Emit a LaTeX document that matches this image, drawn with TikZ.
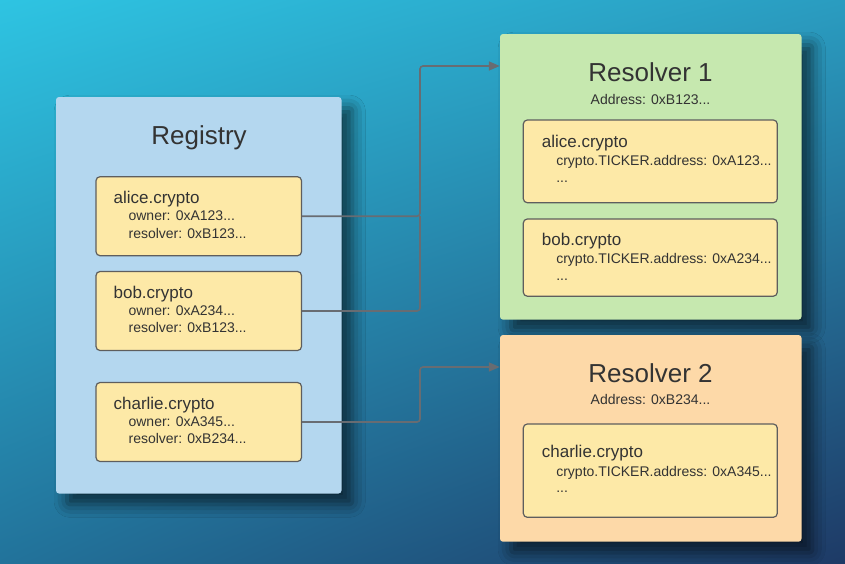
\documentclass[tikz,border=0pt]{standalone}
\usepackage{fontspec}
\setmainfont{Liberation Sans}
\usetikzlibrary{arrows.meta}
\usetikzlibrary{calc}
\usetikzlibrary{shadings}
\usetikzlibrary{shadows.blur}

\definecolor{bgtl}{HTML}{2EC4E2}
\definecolor{bgtr}{HTML}{2A9CC0}
\definecolor{bgbl}{HTML}{22739B}
\definecolor{bgbr}{HTML}{1E3A66}
\definecolor{regfill}{HTML}{B4D7EF}
\definecolor{resfillA}{HTML}{C6E8AF}
\definecolor{resfillB}{HTML}{FDD9A8}
\definecolor{recfill}{HTML}{FDE9A7}
\definecolor{recline}{HTML}{5E5E5E}
\definecolor{linkcol}{HTML}{686C72}
\definecolor{txt}{HTML}{333333}

\tikzset{
    panel/.style={rectangle, rounded corners=3pt, inner sep=0pt,
        blur shadow={shadow xshift=11pt, shadow yshift=-11pt,
            shadow blur radius=13pt, shadow opacity=60}},
    record/.style={rectangle, draw=recline, line width=1.2pt, fill=recfill,
        rounded corners=4pt, inner sep=0pt},
    bigtitle/.style={anchor=base, inner sep=0pt, text=txt,
        font=\fontsize{26}{30}\selectfont},
    addr/.style={anchor=base, inner sep=0pt, text=txt,
        font=\fontsize{14}{16}\selectfont},
    recname/.style={anchor=base west, inner sep=0pt, text=txt,
        font=\fontsize{17}{20}\selectfont},
    recfield/.style={anchor=base west, inner sep=0pt, text=txt,
        font=\fontsize{14}{16}\selectfont},
    link/.style={draw=linkcol, line width=1.6pt, rounded corners=3pt},
}

\begin{document}
\begin{tikzpicture}[x=1pt, y=-1pt, >={Triangle[length=11pt, width=9pt]}]
    \useasboundingbox (0,0) rectangle (845,563);
    \shade[upper left=bgtl, upper right=bgtr, lower left=bgbl, lower right=bgbr]
        (0,0) rectangle (845,563);

    % registry side
    \node[panel, fill=regfill, minimum width=285.5pt, minimum height=396.5pt]
        (registry) at (198.75,295.25) {};
    \node[bigtitle] (regtitle) at (199,144) {Registry};

    \node[record, minimum width=205.5pt, minimum height=79pt] (alice) at (198.75,216.2) {};
    \node[recname] at ($(alice.north west)+(18,27.6)$) {alice.crypto};
    \node[recfield] at ($(alice.north west)+(33,44.6)$) {owner: 0xA123...};
    \node[recfield] at ($(alice.north west)+(33,62)$) {resolver: 0xB123...};

    \node[record, minimum width=205.5pt, minimum height=79pt] (bob) at (198.75,311) {};
    \node[recname] at ($(bob.north west)+(18,27.6)$) {bob.crypto};
    \node[recfield] at ($(bob.north west)+(33,44.6)$) {owner: 0xA234...};
    \node[recfield] at ($(bob.north west)+(33,62)$) {resolver: 0xB123...};

    \node[record, minimum width=205.5pt, minimum height=79pt] (charlie) at (198.75,422) {};
    \node[recname] at ($(charlie.north west)+(18,27.6)$) {charlie.crypto};
    \node[recfield] at ($(charlie.north west)+(33,44.6)$) {owner: 0xA345...};
    \node[recfield] at ($(charlie.north west)+(33,62)$) {resolver: 0xB234...};

    % resolvers
    \node[panel, fill=resfillA, minimum width=301.5pt, minimum height=285.6pt]
        (res1) at (650.75,176.8) {};
    \node[bigtitle] (res1title) at (650.5,81.7) {Resolver 1};
    \node[addr] (res1addr) at (650.5,104) {Address: 0xB123...};

    \node[record, minimum width=254pt, minimum height=82.7pt] (res1alice) at (650.3,161.35) {};
    \node[recname] at ($(res1alice.north west)+(19,28.3)$) {alice.crypto};
    \node[recfield] at ($(res1alice.north west)+(33.4,46)$) {crypto.TICKER.address: 0xA123...};
    \node[recfield] at ($(res1alice.north west)+(33.4,63.3)$) {...};

    \node[record, minimum width=254pt, minimum height=77.2pt] (res1bob) at (650.3,257.6) {};
    \node[recname] at ($(res1bob.north west)+(19,27.5)$) {bob.crypto};
    \node[recfield] at ($(res1bob.north west)+(33.4,45.2)$) {crypto.TICKER.address: 0xA234...};
    \node[recfield] at ($(res1bob.north west)+(33.4,62.5)$) {...};

    \node[panel, fill=resfillB, minimum width=301.5pt, minimum height=206.7pt]
        (res2) at (650.75,438.35) {};
    \node[bigtitle] (res2title) at (650.5,382.7) {Resolver 2};
    \node[addr] (res2addr) at (650.5,404) {Address: 0xB234...};

    \node[record, minimum width=254pt, minimum height=93.3pt] (res2charlie) at (650.3,470.65) {};
    \node[recname] at ($(res2charlie.north west)+(19,34.3)$) {charlie.crypto};
    \node[recfield] at ($(res2charlie.north west)+(33.4,52.7)$) {crypto.TICKER.address: 0xA345...};
    \node[recfield] at ($(res2charlie.north west)+(33.4,69.3)$) {...};

    % links
    \coordinate (bend) at (420,0);
    \coordinate (res1in) at (res1.west |- 0,66);
    \coordinate (res2in) at (res2.west |- 0,367);

    \draw[link, ->] (alice.east) -- (alice.east -| bend) |- (res1in);
    \draw[link] (bob.east) -- (bob.east -| bend) -- (alice.east -| bend);
    \draw[link, ->] (charlie.east) -- (charlie.east -| bend) |- (res2in);
\end{tikzpicture}
\end{document}
